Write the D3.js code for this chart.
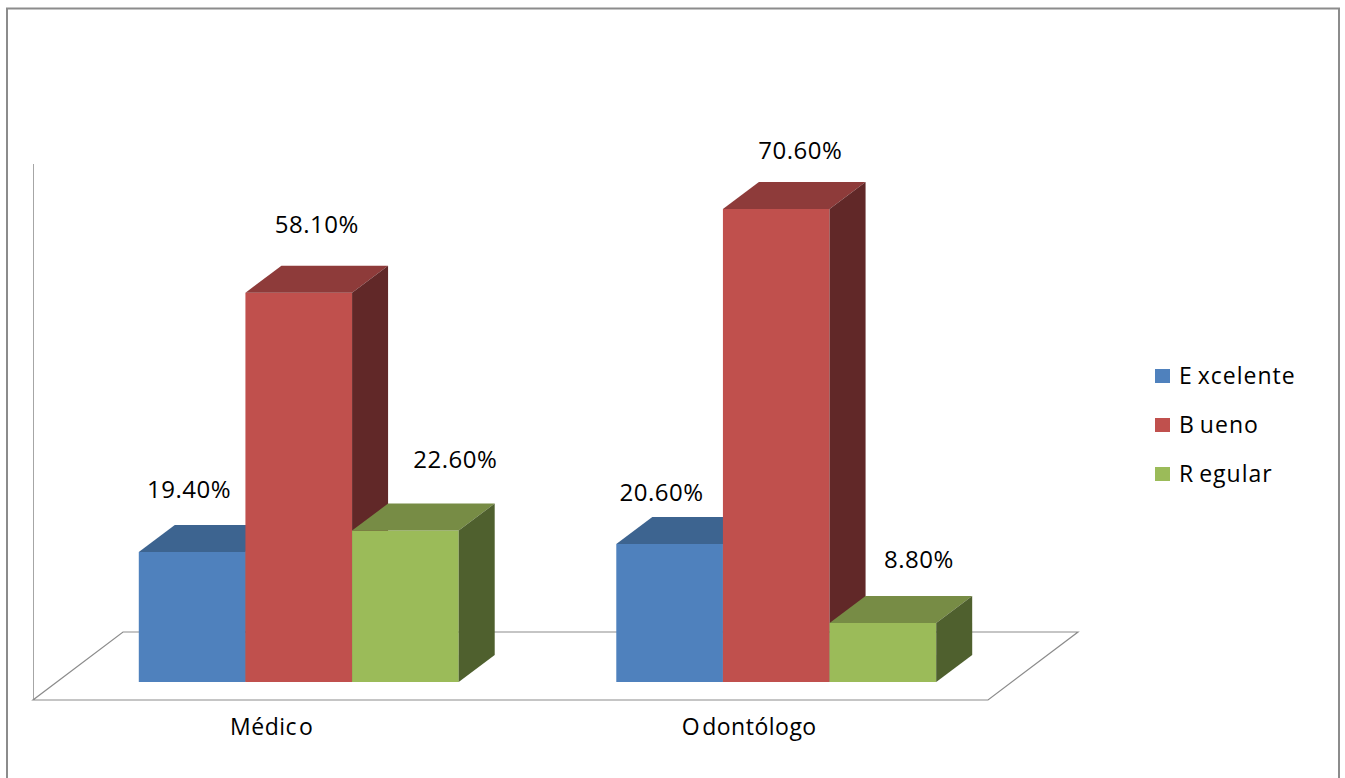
<!DOCTYPE html>
<html>
<head>
<meta charset="utf-8">
<script src="https://cdn.jsdelivr.net/npm/d3@7/dist/d3.min.js"></script>
<style>
  body { margin: 0; background: #fff; }
  svg { display: block; }
  text { font-family: "Open Sans", "Noto Sans", sans-serif; fill: #000; }
</style>
</head>
<body>
<svg id="chart" width="1345" height="778"></svg>
<script>
// ---- data ----
const categories = ["Médico", "Odontólogo"];
const seriesNames = ["Excelente", "Bueno", "Regular"];
const excelente = [19.4, 20.6];
const bueno = [58.1, 70.6];
const regular = [22.6, 8.8];
const valueLabels = [["19.40%", "20.60%"], ["58.10%", "70.60%"], ["22.60%", "8.80%"]];
const valueDomain = [0, 80];

// ---- styling / layout ----
const faceColors = [
  { front: "#4F81BD", top: "#3D6490", side: "#2C4A6E" },
  { front: "#C0504D", top: "#8E3B3A", side: "#612828" },
  { front: "#9BBB59", top: "#778C45", side: "#4F602E" }
];
// per-bar label nudges relative to the centre of the bar's top face (series x category)
const labelNudge = [
  [[-21, -27], [-26, -16]],
  [[0, -33], [6, -23]],
  [[32, -36], [18, -28]]
];
// glyph gap inside the category labels: [split index, gap]
const categorySplit = [[5, 2], [1, 2]];

const svg = d3.select("#chart");

// plot frame: front edge of floor, full floor depth, bar plane offsets
const floorY = 700, floorX0 = 33, floorX1 = 988;
const floorDepth = { dx: 90, dy: -68 };
const barPlane = { dx: 27, dy: -18 };   // where the bars' front faces sit on the floor
const barDepth = { dx: 36, dy: -27 };   // depth of each bar

const x0 = d3.scaleBand().domain(categories).range([floorX0, floorX1])
  .paddingInner(0.33).paddingOuter(0.165);
const x1 = d3.scaleBand().domain(seriesNames).range([0, x0.bandwidth()]);
const y = d3.scaleLinear().domain(valueDomain).range([0, 536]);

// outer chart border
svg.append("rect")
  .attr("x", 7).attr("y", 8.5).attr("width", 1332).attr("height", 800)
  .attr("fill", "none").attr("stroke", "#8c8c8c").attr("stroke-width", 2);

// wall edge
svg.append("line")
  .attr("x1", floorX0 + 0.5).attr("x2", floorX0 + 0.5)
  .attr("y1", floorY).attr("y2", floorY - y(valueDomain[1]))
  .attr("stroke", "#a6a6a6").attr("stroke-width", 1);

// floor outline
const floorPts = [
  [floorX0, floorY], [floorX1, floorY],
  [floorX1 + floorDepth.dx, floorY + floorDepth.dy],
  [floorX0 + floorDepth.dx, floorY + floorDepth.dy]
];
svg.append("path")
  .attr("d", d3.line()(floorPts) + "Z")
  .attr("fill", "none").attr("stroke", "#8c8c8c").attr("stroke-width", 1.2);

// bars
const seriesValues = [excelente, bueno, regular];
const baseY = floorY + barPlane.dy;
const bars = svg.append("g");
categories.forEach((cat, ci) => {
  seriesNames.forEach((s, si) => {
    const v = seriesValues[si][ci];
    const xl = x0(cat) + x1(s) + barPlane.dx;
    const xr = xl + x1.bandwidth();
    const yt = baseY - y(v);
    const c = faceColors[si];
    const g = bars.append("g");
    // front face
    g.append("path").attr("d", d3.line()([[xl, baseY], [xl, yt], [xr, yt], [xr, baseY]]) + "Z")
      .attr("fill", c.front);
    // top face
    g.append("path").attr("d", d3.line()([
      [xl, yt], [xl + barDepth.dx, yt + barDepth.dy],
      [xr + barDepth.dx, yt + barDepth.dy], [xr, yt]]) + "Z")
      .attr("fill", c.top);
    // right side face
    g.append("path").attr("d", d3.line()([
      [xr, yt], [xr + barDepth.dx, yt + barDepth.dy],
      [xr + barDepth.dx, baseY + barDepth.dy], [xr, baseY]]) + "Z")
      .attr("fill", c.side);
  });
});

// value labels
categories.forEach((cat, ci) => {
  seriesNames.forEach((s, si) => {
    const v = seriesValues[si][ci];
    const cx = x0(cat) + x1(s) + barPlane.dx + x1.bandwidth() / 2 + barDepth.dx / 2;
    const backTop = baseY - y(v) + barDepth.dy;
    const n = labelNudge[si][ci];
    svg.append("text")
      .attr("x", cx + n[0]).attr("y", backTop + n[1])
      .attr("text-anchor", "middle")
      .attr("font-size", 24).attr("letter-spacing", 0.5)
      .text(valueLabels[si][ci]);
  });
});

// category labels along the front floor edge
svg.append("g").selectAll("text").data(categories).join("text")
  .attr("x", d => x0(d) - x0.step() * x0.paddingInner() / 2 + x0.step() / 2)
  .attr("y", 735)
  .attr("text-anchor", "middle")
  .attr("font-size", 23)
  .attr("letter-spacing", 0.5)
  .each(function (d, i) {
    const [k, gap] = categorySplit[i];
    const t = d3.select(this);
    t.append("tspan").text(d.slice(0, k));
    t.append("tspan").attr("dx", gap).text(d.slice(k));
  });

// legend
const legend = svg.append("g").attr("transform", "translate(1155,369)");
seriesNames.forEach((s, i) => {
  const row = legend.append("g").attr("transform", `translate(0,${i * 49})`);
  row.append("rect").attr("width", 15).attr("height", 14).attr("fill", faceColors[i].front);
  const t = row.append("text").attr("x", 24).attr("y", 15)
    .attr("font-size", 23).attr("letter-spacing", 1);
  t.append("tspan").text(s.slice(0, 1));
  t.append("tspan").attr("dx", 5).text(s.slice(1));
});
</script>
</body>
</html>
